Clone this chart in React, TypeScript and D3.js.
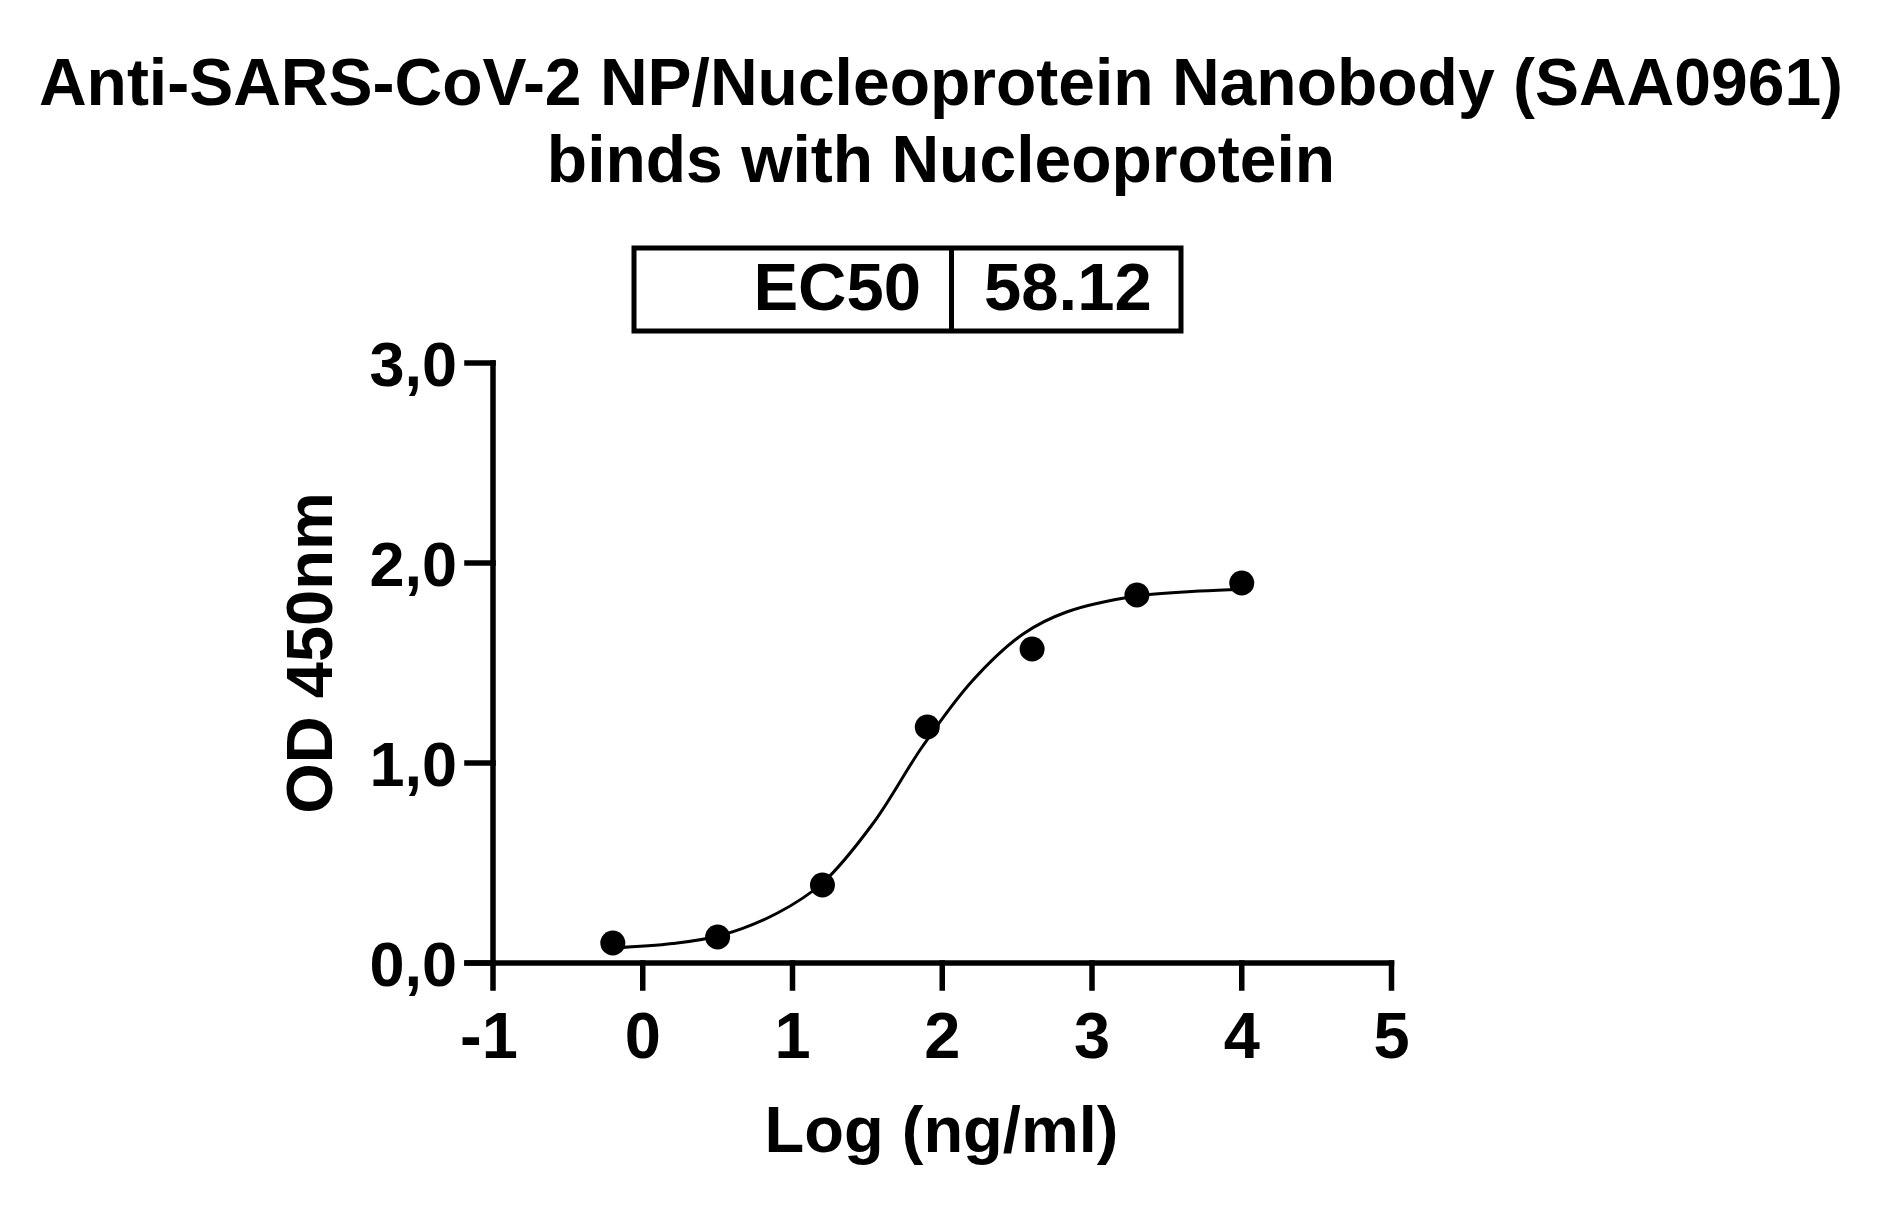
import * as d3 from "d3";

/* ------------------------------------------------------------------ */
/*  Data                                                              */
/* ------------------------------------------------------------------ */

const titleLines = [
  "Anti-SARS-CoV-2 NP/Nucleoprotein Nanobody (SAA0961)",
  "binds with Nucleoprotein",
];

const xLabel = "Log (ng/ml)";
const yLabel = "OD 450nm";

const ec50Label = "EC50";
const ec50Value = "58.12";

/** Measured points: log concentration vs OD450. */
const logConc = [-0.2, 0.5, 1.2, 1.9, 2.6, 3.3, 4.0];
const od450 = [0.1, 0.13, 0.39, 1.18, 1.57, 1.84, 1.9];

/** Fitted curve. */
const fitX = [-0.2, 0.2, 0.53, 0.9, 1.2, 1.54, 1.87, 2.2, 2.54, 2.83, 3.3, 3.72, 4.0];
const fitY = [0.075, 0.097, 0.14, 0.25, 0.4, 0.7, 1.085, 1.41, 1.645, 1.755, 1.835, 1.86, 1.868];

const xTicks = [-1, 0, 1, 2, 3, 4, 5];
const yTicks = [0, 1, 2, 3];

/* ------------------------------------------------------------------ */
/*  Component                                                         */
/* ------------------------------------------------------------------ */

const W = 1887;
const H = 1209;
const FONT = "'Liberation Sans', Arial, Helvetica, sans-serif";

export default function App() {
  const x = d3.scaleLinear().domain([-1, 5]).range([493, 1391.5]);
  const y = d3.scaleLinear().domain([0, 3]).range([963, 363]);

  const commaFmt = d3.formatLocale({
    decimal: ",",
    thousands: ".",
    grouping: [3],
    currency: ["", ""],
  }).format(".1f");

  const line = d3
    .line<number>()
    .x((_, i) => x(fitX[i]))
    .y((d) => y(d))
    .curve(d3.curveCatmullRom.alpha(0.5));

  const axisW = 5.5;
  const tickLen = 26;
  const [x0, x1] = x.range();
  const [y0, y1] = y.range();

  return (
    <svg
      width={W}
      height={H}
      viewBox={`0 0 ${W} ${H}`}
      style={{ position: "absolute", left: 0, top: 0, display: "block", background: "#fff" }}
      fontFamily={FONT}
      fontWeight="bold"
    >
      <rect x={0} y={0} width={W} height={H} fill="#fff" />

      {/* Title */}
      {titleLines.map((t, i) => (
        <text key={t} x={941} y={105 + i * 77} textAnchor="middle" fontSize={66} fill="#000">
          {t}
        </text>
      ))}

      {/* EC50 table */}
      <g stroke="#000" strokeWidth={5} fill="none">
        <rect x={634} y={248} width={547} height={83} />
        <line x1={951.5} y1={248} x2={951.5} y2={331} />
      </g>
      <text x={921} y={310} textAnchor="end" fontSize={67} fill="#000">
        {ec50Label}
      </text>
      <text x={984} y={310} textAnchor="start" fontSize={67} fill="#000">
        {ec50Value}
      </text>

      {/* Y axis */}
      <g stroke="#000" strokeWidth={axisW} strokeLinecap="square">
        <line x1={x0} y1={y1} x2={x0} y2={y0} />
        {yTicks.map((t) => (
          <line key={t} x1={x0 - tickLen} y1={y(t)} x2={x0} y2={y(t)} />
        ))}
      </g>
      {yTicks.map((t) => (
        <text key={t} x={457} y={y(t) + 22.5} textAnchor="end" fontSize={63} fill="#000">
          {commaFmt(t)}
        </text>
      ))}

      {/* X axis */}
      <g stroke="#000" strokeWidth={axisW} strokeLinecap="square">
        <line x1={x0 - tickLen} y1={y0} x2={x1} y2={y0} />
        {xTicks.map((t) => (
          <line key={t} x1={x(t)} y1={y0} x2={x(t)} y2={y0 + 25} />
        ))}
      </g>
      {xTicks.map((t) => (
        <text key={t} x={x(t) - (t < 0 ? 4 : 0)} y={1058} textAnchor="middle" fontSize={65} fill="#000">
          {t}
        </text>
      ))}

      {/* Axis titles */}
      <text x={941.5} y={1152} textAnchor="middle" fontSize={65} fill="#000">
        {xLabel}
      </text>
      <text transform="translate(332,653) rotate(-90)" textAnchor="middle" fontSize={65} fill="#000">
        {yLabel}
      </text>

      {/* Fitted curve */}
      <path d={line(fitY) ?? ""} fill="none" stroke="#000" strokeWidth={3} />

      {/* Points */}
      {logConc.map((c, i) => (
        <circle key={c} cx={x(c)} cy={y(od450[i])} r={12.5} fill="#000" />
      ))}
    </svg>
  );
}
